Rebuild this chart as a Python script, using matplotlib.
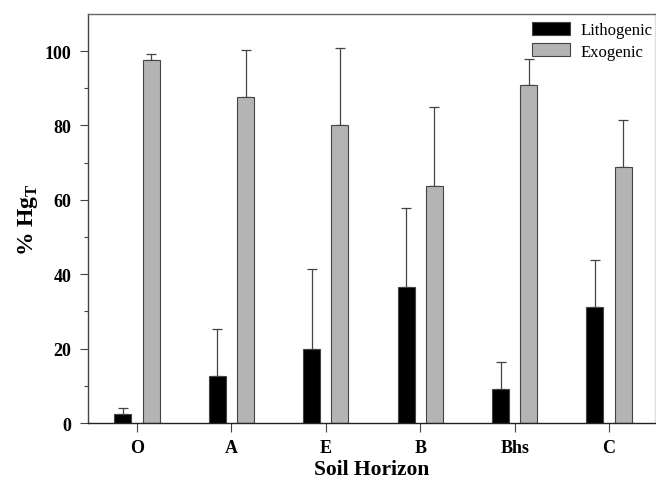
import numpy as np
import matplotlib.pyplot as plt
from matplotlib.patches import Patch

plt.rcParams['font.family'] = ['Liberation Serif', 'DejaVu Serif']
plt.rcParams['mathtext.fontset'] = 'custom'
plt.rcParams['mathtext.rm'] = 'Liberation Serif'
plt.rcParams['mathtext.bf'] = 'Liberation Serif:bold'

# Data
horizons = ["O", "A", "E", "B", "Bhs", "C"]
litho = [2.3, 12.6, 20.0, 36.5, 9.2, 31.3]
litho_err = [1.8, 12.8, 21.3, 21.3, 7.1, 12.6]
exo = [97.6, 87.6, 80.0, 63.8, 90.8, 68.9]
exo_err = [1.7, 12.7, 20.9, 21.2, 7.0, 12.6]

x = np.arange(len(horizons))
w = 0.18
off = 0.15
edge = "#444444"

fig = plt.figure(figsize=(6.56, 4.81), dpi=100)
ax = fig.add_axes([0.134, 0.1185, 0.865, 0.8505])

ax.bar(x - off, litho, w, color="black", edgecolor=edge, linewidth=0.8, zorder=2)
ax.bar(x + off, exo, w, color="#b4b4b4", edgecolor=edge, linewidth=0.8, zorder=2)
ax.errorbar(x - off, litho, yerr=[np.zeros(len(x)), litho_err], fmt="none",
            ecolor=edge, elinewidth=0.9, capsize=3.3, capthick=0.9, zorder=1)
ax.errorbar(x + off, exo, yerr=[np.zeros(len(x)), exo_err], fmt="none",
            ecolor=edge, elinewidth=0.9, capsize=3.3, capthick=0.9, zorder=1)

ax.set_xlim(-0.52, 5.49)
ax.set_ylim(0, 110)
ax.set_yticks([0, 20, 40, 60, 80, 100])
ax.set_yticks([10, 30, 50, 70, 90], minor=True)
ax.set_xticks(x)
ax.set_xticklabels(horizons)

for lab in ax.get_xticklabels() + ax.get_yticklabels():
    lab.set_fontweight("bold")
    lab.set_fontsize(13)

ax.tick_params(axis="y", which="major", length=6, width=0.8, color="#444444", pad=6)
ax.tick_params(axis="y", which="minor", length=3, width=0.8, color="#444444")
ax.tick_params(axis="x", length=6.5, width=0.8, color="#444444", pad=5)

for s in ax.spines.values():
    s.set_color("#666666")
    s.set_linewidth(1.0)
ax.spines["left"].set_color("#444444")
ax.spines["bottom"].set_color("#222222")
ax.spines["right"].set_color("#dddddd")

ax.set_xlabel("Soil Horizon", fontsize=15.5, fontweight="bold", labelpad=2)
ax.set_ylabel(r"% Hg$_\mathbf{T}$", fontsize=17, fontweight="bold", labelpad=3)

handles = [Patch(facecolor="black", edgecolor=edge, linewidth=0.8, label="Lithogenic"),
           Patch(facecolor="#b4b4b4", edgecolor=edge, linewidth=0.8, label="Exogenic")]
ax.legend(handles=handles, loc="upper right", bbox_to_anchor=(1.009, 1.0),
          frameon=False, fontsize=12, handlelength=2.3, handleheight=0.8,
          borderaxespad=0.1, labelspacing=0.3, handletextpad=0.6)

fig.savefig("out.png", dpi=100)
